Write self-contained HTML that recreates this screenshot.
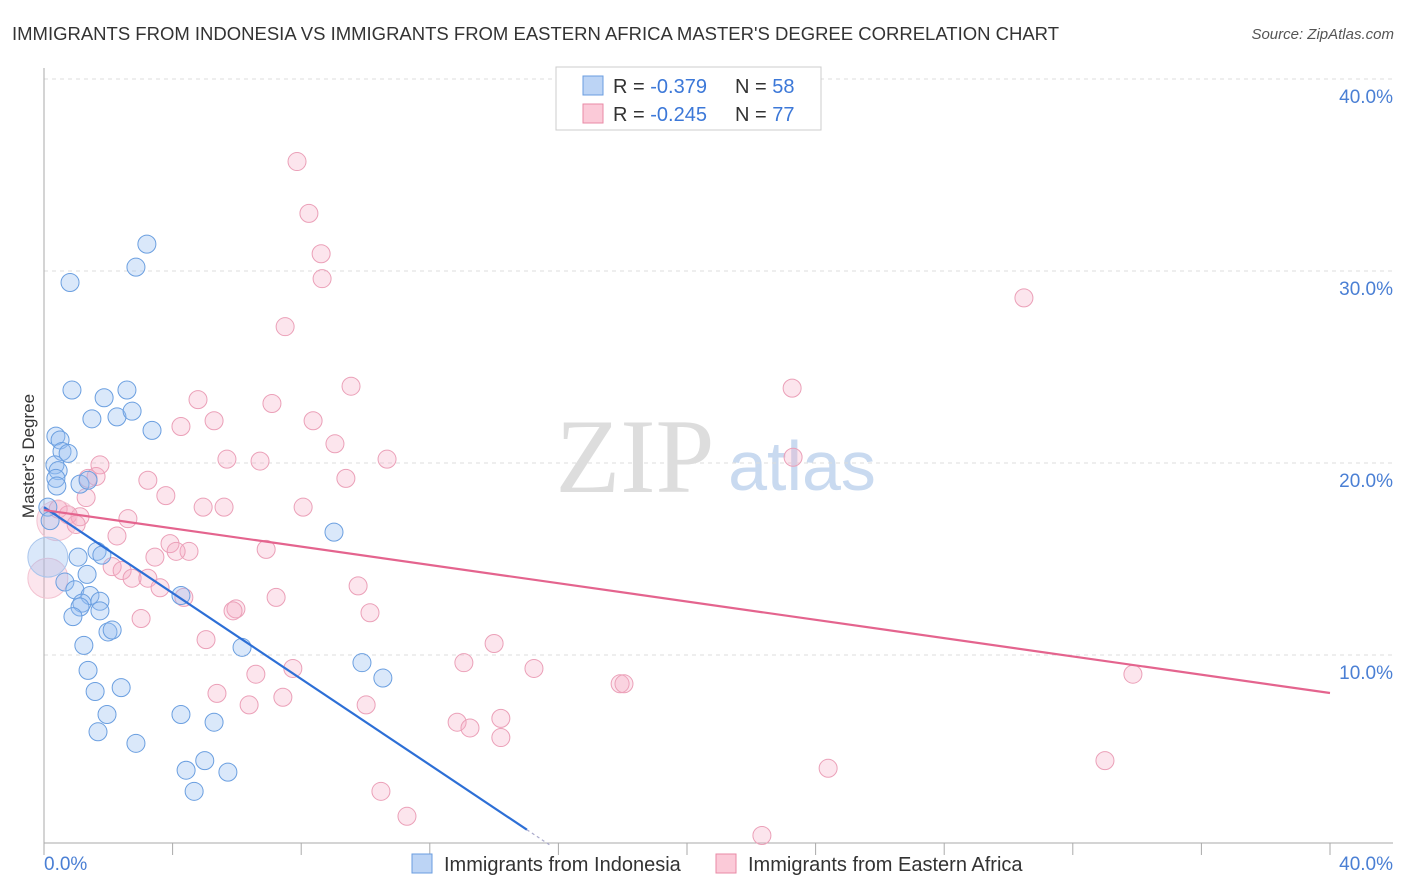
<!DOCTYPE html>
<html><head><meta charset="utf-8"><style>
body{margin:0;background:#fff;font-family:"Liberation Sans",sans-serif;}
#wrap{position:relative;width:1406px;height:892px;overflow:hidden;}
</style></head><body>
<div id="wrap">
<svg id="svg" width="1406" height="892" xmlns="http://www.w3.org/2000/svg">
<text x="12" y="40" font-size="18" fill="#333" textLength="1047" lengthAdjust="spacingAndGlyphs">IMMIGRANTS FROM INDONESIA VS IMMIGRANTS FROM EASTERN AFRICA MASTER'S DEGREE CORRELATION CHART</text>
<text x="1394" y="39" font-size="15" fill="#555" font-style="italic" text-anchor="end">Source: ZipAtlas.com</text>
<text x="635" y="492" font-size="106" fill="#ddd" font-family="Liberation Serif,serif" text-anchor="middle">ZIP</text>
<text x="802" y="490" font-size="70" fill="#c9daf0" text-anchor="middle">atlas</text>
<text transform="translate(34,456) rotate(-90)" font-size="17" fill="#333" text-anchor="middle">Master's Degree</text>
<g id="grid"></g><g id="marks"></g>
<g>
<rect x="556" y="67" width="265" height="63" fill="#fff" stroke="#ccc"/>
<rect x="583" y="76" width="20" height="19" fill="#bcd4f5" stroke="#6a9de0"/>
<rect x="583" y="104" width="20" height="19" fill="#fbcad8" stroke="#e88aa6"/>
<text x="613" y="93" font-size="20" fill="#333">R = <tspan fill="#3c78d8">-0.379</tspan></text>
<text x="735" y="93" font-size="20" fill="#333">N = <tspan fill="#3c78d8">58</tspan></text>
<text x="613" y="121" font-size="20" fill="#333">R = <tspan fill="#3c78d8">-0.245</tspan></text>
<text x="735" y="121" font-size="20" fill="#333">N = <tspan fill="#3c78d8">77</tspan></text>
</g>
<g>
<rect x="412" y="854" width="20" height="19" fill="#bcd4f5" stroke="#6a9de0"/>
<text x="444" y="871" font-size="20" fill="#333">Immigrants from Indonesia</text>
<rect x="716" y="854" width="20" height="19" fill="#fbcad8" stroke="#e88aa6"/>
<text x="748" y="871" font-size="20" fill="#333">Immigrants from Eastern Africa</text>
</g>
</svg>
</div>
<script>
const yTicks=[10,20,30,40];
const yTickLabels=["10.0%","20.0%","30.0%","40.0%"];
const xTickLabels=["0.0%","40.0%"];
const blueX=[3.2,2.86,0.81,0.87,1.87,2.58,2.27,2.74,1.49,3.36,0.37,0.5,0.56,0.75,0.34,0.44,0.37,0.4,1.12,1.37,0.12,0.19,1.65,1.8,1.06,1.34,0.65,0.96,1.43,1.18,1.74,1.12,0.9,1.74,1.99,2.12,1.24,1.37,1.59,2.4,1.96,1.68,2.86,4.26,5.29,4.42,5.0,5.72,4.67,9.02,6.16,4.26,9.89,10.54];
const blueY=[31.4,30.2,29.4,23.8,23.4,23.8,22.4,22.7,22.3,21.7,21.4,21.2,20.6,20.5,19.9,19.6,19.2,18.8,18.9,19.1,17.7,17.0,15.4,15.2,15.1,14.2,13.8,13.4,13.1,12.7,12.8,12.5,12.0,12.3,11.2,11.3,10.5,9.2,8.1,8.3,6.9,6.0,5.4,6.9,6.5,4.0,4.5,3.9,2.9,16.4,10.4,13.1,9.6,8.8];
const blueBigX=[0.12];const blueBigY=[15.1];
const pinkX=[7.87,8.24,8.62,8.65,7.5,30.48,9.55,23.27,4.79,7.09,8.37,4.26,5.29,9.05,10.67,23.3,5.69,6.72,9.39,3.23,1.74,1.62,1.37,3.79,1.31,4.95,5.6,8.06,0.44,0.75,1.12,1.0,2.61,2.27,3.92,4.51,6.91,3.45,2.12,2.43,4.11,2.74,3.23,3.61,4.35,9.77,7.22,5.97,5.88,3.02,10.14,5.04,14.0,6.59,7.74,13.06,15.24,5.38,6.38,7.43,10.02,12.85,13.25,14.21,14.21,17.92,18.04,33.87,24.39,33.0,10.48,11.29,22.33];
const pinkY=[35.7,33.0,30.9,29.6,27.1,28.6,24.0,23.9,23.3,23.1,22.2,21.9,22.2,21.0,20.2,20.3,20.2,20.1,19.2,19.1,19.9,19.3,19.2,18.3,18.2,17.7,17.7,17.7,17.6,17.3,17.2,16.8,17.1,16.2,15.8,15.4,15.5,15.1,14.6,14.4,15.4,14.0,14.0,13.5,13.0,13.6,13.0,12.4,12.3,11.9,12.2,10.8,10.6,9.0,9.3,9.6,9.3,8.0,7.4,7.8,7.4,6.5,6.2,6.7,5.7,8.5,8.5,9.0,4.1,4.5,2.9,1.6,0.6];
const pinkBigX=[0.12,0.4];const pinkBigY=[14.0,17.0];
const blueTrend=[17.7,0.9,15.02];
const pinkTrend=[17.55,8.02,40];
const NS="http://www.w3.org/2000/svg";
const X=v=>44+v*(1286/40), Y=v=>847-v*19.2;
const grid=document.getElementById('grid'), marks=document.getElementById('marks');
function mk(tag,at,parent){const e=document.createElementNS(NS,tag);for(const k in at)e.setAttribute(k,at[k]);parent.appendChild(e);return e;}
yTicks.forEach((t,i)=>{
 const l=mk('line',{x1:44,x2:1393,y1:Y(t),y2:Y(t),stroke:'#ddd','stroke-dasharray':'4,4'},grid);
 
 
 const tx=mk('text',{x:1393,y:Y(t)+24,'font-size':19,fill:'#4a7fd4','text-anchor':'end'},grid);tx.textContent=yTickLabels[i];
 
 
});
mk('line',{x1:44,x2:44,y1:68,y2:843,stroke:'#aaa'},grid);
mk('line',{x1:44,x2:1393,y1:843,y2:843,stroke:'#aaa'},grid);
for(let i=0;i<=10;i++){const t=mk('line',{x1:X(i*4),x2:X(i*4),y1:843,y2:855,stroke:'#aaa'},grid);
 
 }
const a=mk('text',{x:44,y:870,'font-size':19,fill:'#4a7fd4'},grid);a.textContent=xTickLabels[0];


const b=mk('text',{x:1393,y:870,'font-size':19,fill:'#4a7fd4','text-anchor':'end'},grid);b.textContent=xTickLabels[1];


function dots(xs,ys,r,fill,stroke,name){xs.forEach((x,i)=>{const c=mk('circle',{cx:X(x),cy:Y(ys[i]),r:r,fill:fill,stroke:stroke,'stroke-width':1},marks);
 
 });}
dots(pinkX,pinkY,9,'rgba(246,170,195,0.3)','#eba0b8','point-eastern-africa');
dots(pinkBigX,pinkBigY,20,'rgba(246,170,195,0.3)','#f3c3d1','point-eastern-africa-large');
dots(blueX,blueY,9,'rgba(150,190,240,0.35)','#6b9fe0','point-indonesia');
dots(blueBigX,blueBigY,20,'rgba(150,190,240,0.35)','#a9c5ec','point-indonesia-large');
const bl=mk('line',{x1:X(0),y1:Y(blueTrend[0]),x2:X(blueTrend[2]),y2:Y(blueTrend[1]),stroke:'#2d6fd6','stroke-width':2.2},marks);


const slope=(blueTrend[1]-blueTrend[0])/blueTrend[2];
const bd=mk('line',{x1:X(blueTrend[2]),y1:Y(blueTrend[1]),x2:X(blueTrend[2]+0.7),y2:Y(blueTrend[1]+slope*0.7),stroke:'#aac','stroke-width':1.2,'stroke-dasharray':'3,3'},marks);


const pl=mk('line',{x1:X(0),y1:Y(pinkTrend[0]),x2:X(pinkTrend[2]),y2:Y(pinkTrend[1]),stroke:'#e4648e','stroke-width':2.2},marks);


</script>
</body></html>
